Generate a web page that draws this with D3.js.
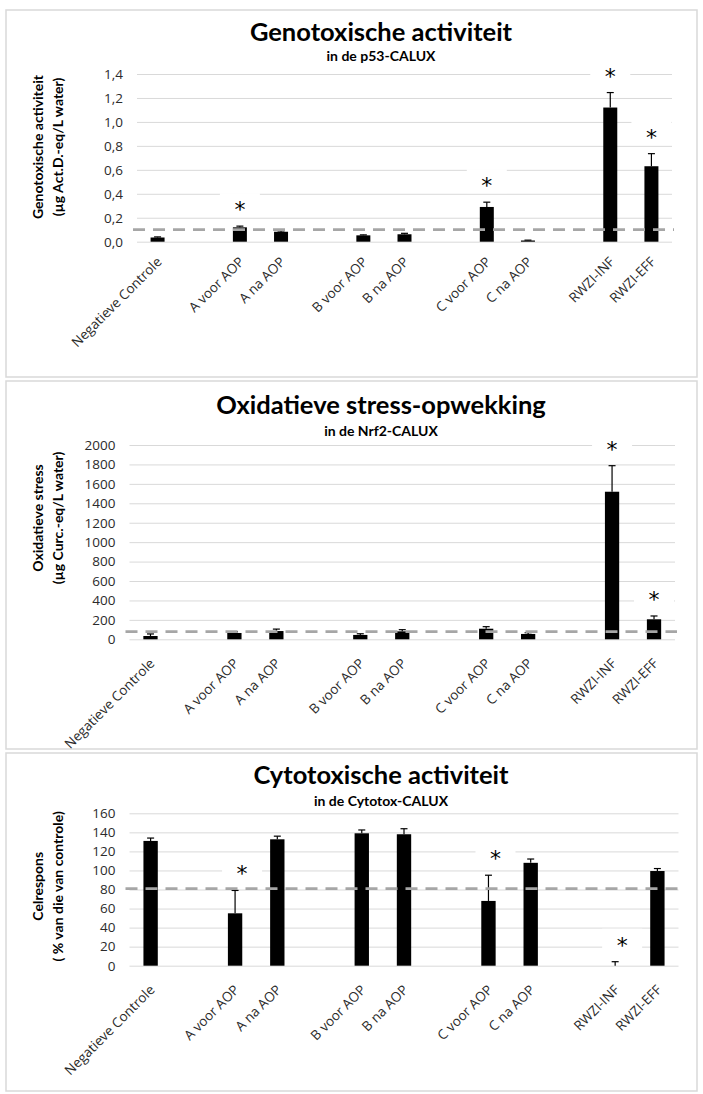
<!DOCTYPE html>
<html><head><meta charset="utf-8">
<script src="https://cdn.jsdelivr.net/npm/d3@7"></script>
<style>
body{margin:0;background:#fff}
svg{display:block}
text{font-family:Lato,"Open Sans",sans-serif}
</style>
</head><body>
<svg id="chart" width="703" height="1094"></svg>
<script>
// ---------- DATA ----------
const categories = ["Negatieve Controle", "", "A voor AOP", "A na AOP", "", "B voor AOP", "B na AOP", "", "C voor AOP", "C na AOP", "", "RWZI-INF", "RWZI-EFF"];

const genoValues = [0.035, null, 0.12, 0.083, null, 0.053, 0.062, null, 0.29, 0.01, null, 1.12, 0.63];
const genoErrors = [0.005, null, 0.01, 0.007, null, 0.004, 0.008, null, 0.04, 0.003, null, 0.125, 0.105];
const genoSignificant = [false, false, true, false, false, false, false, false, true, false, false, true, true];
const genoThreshold = 0.1;
const genoTicks = [0, 0.2, 0.4, 0.6, 0.8, 1.0, 1.2, 1.4];

const oxValues = [34, null, 65, 85, null, 45, 82, null, 109, 55, null, 1519, 206];
const oxErrors = [21, null, 12, 20, null, 12, 17, null, 21, 13, null, 268, 34];
const oxSignificant = [false, false, false, false, false, false, false, false, false, false, false, true, true];
const oxThreshold = 80;
const oxTicks = [0, 200, 400, 600, 800, 1000, 1200, 1400, 1600, 1800, 2000];

const cytoValues = [131, null, 55, 132.7, null, 139, 138, null, 68, 108, null, 0, 99.4];
const cytoErrors = [3, null, 24, 3.3, null, 3.5, 5.8, null, 27, 4, null, 4.2, 2.6];
const cytoSignificant = [false, false, true, false, false, false, false, false, true, false, false, true, false];
const cytoThreshold = 81;
const cytoTicks = [0, 20, 40, 60, 80, 100, 120, 140, 160];

// ---------- LAYOUT / STYLE ----------
const nl = d3.formatLocale({decimal: ",", thousands: "", grouping: [3], currency: ["€", ""]});
const tickFont = "'Open Sans', Lato, sans-serif";

const panels = [
  {title: "Genotoxische activiteit", subtitle: "in de p53-CALUX",
   yTitle: ["Genotoxische activiteit", "(µg Act.D.-eq/L water)"],
   values: genoValues, errors: genoErrors, sig: genoSignificant, threshold: genoThreshold,
   ticks: genoTicks, fmt: nl.format(".1f"),
   box: [6, 10, 697, 377], titleY: 41, subY: 61,
   plot: {l: 137, r: 672, t: 74, b: 241.7}, starDx: 0, labelDy: 21},
  {title: "Oxidatieve stress-opwekking", subtitle: "in de Nrf2-CALUX",
   yTitle: ["Oxidatieve stress", "(µg Curc.-eq/L water)"],
   values: oxValues, errors: oxErrors, sig: oxSignificant, threshold: oxThreshold,
   ticks: oxTicks, fmt: nl.format("d"),
   box: [6, 381, 697, 749], titleY: 414, subY: 436,
   plot: {l: 129.5, r: 675, t: 445, b: 639.3}, starDx: 0, labelDy: 25},
  {title: "Cytotoxische activiteit", subtitle: "in de Cytotox-CALUX",
   yTitle: ["Celrespons", "( % van die van controle)"],
   values: cytoValues, errors: cytoErrors, sig: cytoSignificant, threshold: cytoThreshold,
   ticks: cytoTicks, fmt: nl.format("d"),
   box: [6, 753, 697, 1091], titleY: 784, subY: 806,
   plot: {l: 129.5, r: 678.5, t: 813.3, b: 965.7}, starDx: 7, labelDy: 25}
];

const svg = d3.select("#chart");
const titleX = 381;

panels.forEach(p => {
  const g = svg.append("g");
  const P = p.plot;

  // panel border
  g.append("rect")
    .attr("x", p.box[0]).attr("y", p.box[1])
    .attr("width", p.box[2] - p.box[0]).attr("height", p.box[3] - p.box[1])
    .attr("fill", "none").attr("stroke", "#d9d9d9").attr("stroke-width", 1.5);

  // titles
  g.append("text").attr("x", titleX).attr("y", p.titleY)
    .attr("text-anchor", "middle").attr("font-weight", "bold").attr("font-size", 25.5)
    .attr("fill", "#000").text(p.title);
  g.append("text").attr("x", titleX).attr("y", p.subY)
    .attr("text-anchor", "middle").attr("font-weight", "bold").attr("font-size", 14)
    .attr("fill", "#000").text(p.subtitle);

  const x = d3.scaleBand().domain(d3.range(categories.length))
    .range([P.l, P.r]).paddingInner(0.66).paddingOuter(0.33);
  const y = d3.scaleLinear().domain([0, d3.max(p.ticks)]).range([P.b, P.t]);

  // y axis with gridlines
  const yAxis = g.append("g").attr("transform", `translate(${P.l},0)`)
    .call(d3.axisLeft(y).tickValues(p.ticks).tickFormat(p.fmt)
      .tickSize(-(P.r - P.l)).tickPadding(14));
  yAxis.select(".domain").remove();
  yAxis.selectAll(".tick line").attr("stroke", "#d9d9d9").attr("stroke-width", 1);
  yAxis.selectAll(".tick text").attr("font-size", 13.5).attr("fill", "#2b2b2b")
    .style("font-family", tickFont);

  // y axis title
  const yt = g.append("g").attr("transform", `translate(0,${P.t + 73}) rotate(-90)`);
  yt.append("text").attr("x", 0).attr("y", 43).attr("text-anchor", "middle")
    .attr("font-weight", "bold").attr("font-size", 14).attr("fill", "#000").text(p.yTitle[0]);
  yt.append("text").attr("x", 0).attr("y", 62.5).attr("text-anchor", "middle")
    .attr("font-weight", "bold").attr("font-size", 14).attr("fill", "#000").text(p.yTitle[1]);

  // x axis labels
  const xAxis = g.append("g").attr("transform", `translate(0,${P.b})`)
    .call(d3.axisBottom(x).tickFormat(i => categories[i]).tickSize(0));
  xAxis.select(".domain").remove();
  xAxis.selectAll(".tick text")
    .attr("x", 0).attr("y", 0).attr("dy", 0)
    .attr("text-anchor", "end")
    .attr("transform", `translate(5,${p.labelDy}) rotate(-45)`)
    .attr("font-size", 13.5).attr("fill", "#2b2b2b")
    .style("font-family", tickFont);

  const idx = d3.range(categories.length).filter(i => p.values[i] !== null);
  const cx = i => x(i) + x.bandwidth() / 2;
  const starGap = 21;
  const starIdx = idx.filter(i => p.sig[i]);
  const starY = i => y(p.values[i] + p.errors[i]) - starGap;

  // white label boxes behind significance stars (break gridlines)
  g.selectAll(".sbox").data(starIdx).join("rect")
    .attr("x", i => cx(i) + p.starDx - 20).attr("y", i => starY(i) - 12)
    .attr("width", 40).attr("height", 24).attr("fill", "#fff");

  // bars
  g.selectAll(".bar").data(idx).join("rect")
    .attr("x", i => x(i)).attr("width", x.bandwidth())
    .attr("y", i => y(p.values[i])).attr("height", i => y(0) - y(p.values[i]))
    .attr("fill", "#000");

  // error bars (upper only)
  const eb = g.selectAll(".err").data(idx).join("g");
  eb.append("line")
    .attr("x1", cx).attr("x2", cx)
    .attr("y1", i => y(p.values[i])).attr("y2", i => y(p.values[i] + p.errors[i]))
    .attr("stroke", "#000").attr("stroke-width", 1.2);
  eb.append("line")
    .attr("x1", i => cx(i) - 3.5).attr("x2", i => cx(i) + 3.5)
    .attr("y1", i => y(p.values[i] + p.errors[i])).attr("y2", i => y(p.values[i] + p.errors[i]))
    .attr("stroke", "#000").attr("stroke-width", 1.2);

  // threshold dashed line
  g.append("line")
    .attr("x1", P.l - 4).attr("x2", P.r + 2)
    .attr("y1", y(p.threshold)).attr("y2", y(p.threshold))
    .attr("stroke", "#a6a6a6").attr("stroke-width", 2.8)
    .attr("stroke-dasharray", "12,8");

  // significance stars
  g.selectAll(".star").data(starIdx).join("text")
    .attr("x", i => cx(i) + p.starDx).attr("y", i => starY(i) + 12)
    .attr("text-anchor", "middle").attr("font-size", 22).attr("fill", "#000")
    .style("font-family", "'DejaVu Sans', sans-serif")
    .text("*");
});
</script>
</body></html>
